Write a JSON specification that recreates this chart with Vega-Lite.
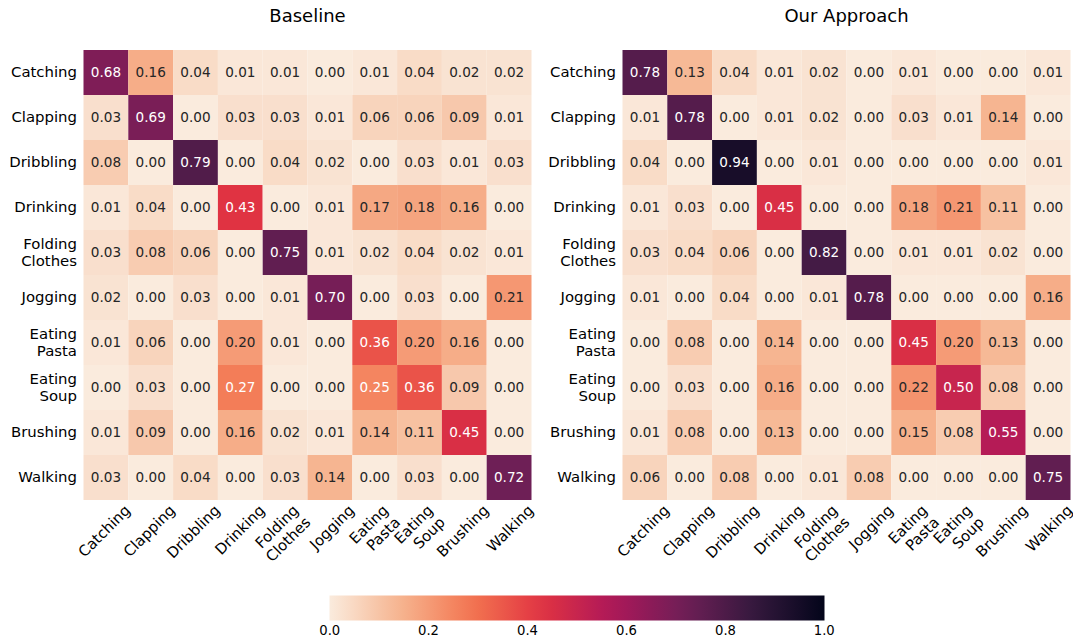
{
  "$schema": "https://vega.github.io/schema/vega-lite/v6.json",
  "autosize": {"type": "pad"},
  "padding": {"left": 8.5, "top": 8, "right": 0, "bottom": 0},
  "bounds": "flush",
  "spacing": 91,
  "config": {
    "font": "DejaVu Sans",
    "view": {"stroke": null},
    "axis": {"domain": false, "ticks": false, "grid": false, "title": null, "labelColor": "#000000", "labelFontSize": 14.9, "labelLineHeight": 17, "labelLimit": 200}
  },
  "datasets": {
    "cm": [
      {"m":"Baseline","t":"Catching","p":"Catching","v":0.68},{"m":"Baseline","t":"Catching","p":"Clapping","v":0.16},{"m":"Baseline","t":"Catching","p":"Dribbling","v":0.04},{"m":"Baseline","t":"Catching","p":"Drinking","v":0.01},{"m":"Baseline","t":"Catching","p":"Folding Clothes","v":0.01},{"m":"Baseline","t":"Catching","p":"Jogging","v":0.00},{"m":"Baseline","t":"Catching","p":"Eating Pasta","v":0.01},{"m":"Baseline","t":"Catching","p":"Eating Soup","v":0.04},{"m":"Baseline","t":"Catching","p":"Brushing","v":0.02},{"m":"Baseline","t":"Catching","p":"Walking","v":0.02},
      {"m":"Baseline","t":"Clapping","p":"Catching","v":0.03},{"m":"Baseline","t":"Clapping","p":"Clapping","v":0.69},{"m":"Baseline","t":"Clapping","p":"Dribbling","v":0.00},{"m":"Baseline","t":"Clapping","p":"Drinking","v":0.03},{"m":"Baseline","t":"Clapping","p":"Folding Clothes","v":0.03},{"m":"Baseline","t":"Clapping","p":"Jogging","v":0.01},{"m":"Baseline","t":"Clapping","p":"Eating Pasta","v":0.06},{"m":"Baseline","t":"Clapping","p":"Eating Soup","v":0.06},{"m":"Baseline","t":"Clapping","p":"Brushing","v":0.09},{"m":"Baseline","t":"Clapping","p":"Walking","v":0.01},
      {"m":"Baseline","t":"Dribbling","p":"Catching","v":0.08},{"m":"Baseline","t":"Dribbling","p":"Clapping","v":0.00},{"m":"Baseline","t":"Dribbling","p":"Dribbling","v":0.79},{"m":"Baseline","t":"Dribbling","p":"Drinking","v":0.00},{"m":"Baseline","t":"Dribbling","p":"Folding Clothes","v":0.04},{"m":"Baseline","t":"Dribbling","p":"Jogging","v":0.02},{"m":"Baseline","t":"Dribbling","p":"Eating Pasta","v":0.00},{"m":"Baseline","t":"Dribbling","p":"Eating Soup","v":0.03},{"m":"Baseline","t":"Dribbling","p":"Brushing","v":0.01},{"m":"Baseline","t":"Dribbling","p":"Walking","v":0.03},
      {"m":"Baseline","t":"Drinking","p":"Catching","v":0.01},{"m":"Baseline","t":"Drinking","p":"Clapping","v":0.04},{"m":"Baseline","t":"Drinking","p":"Dribbling","v":0.00},{"m":"Baseline","t":"Drinking","p":"Drinking","v":0.43},{"m":"Baseline","t":"Drinking","p":"Folding Clothes","v":0.00},{"m":"Baseline","t":"Drinking","p":"Jogging","v":0.01},{"m":"Baseline","t":"Drinking","p":"Eating Pasta","v":0.17},{"m":"Baseline","t":"Drinking","p":"Eating Soup","v":0.18},{"m":"Baseline","t":"Drinking","p":"Brushing","v":0.16},{"m":"Baseline","t":"Drinking","p":"Walking","v":0.00},
      {"m":"Baseline","t":"Folding Clothes","p":"Catching","v":0.03},{"m":"Baseline","t":"Folding Clothes","p":"Clapping","v":0.08},{"m":"Baseline","t":"Folding Clothes","p":"Dribbling","v":0.06},{"m":"Baseline","t":"Folding Clothes","p":"Drinking","v":0.00},{"m":"Baseline","t":"Folding Clothes","p":"Folding Clothes","v":0.75},{"m":"Baseline","t":"Folding Clothes","p":"Jogging","v":0.01},{"m":"Baseline","t":"Folding Clothes","p":"Eating Pasta","v":0.02},{"m":"Baseline","t":"Folding Clothes","p":"Eating Soup","v":0.04},{"m":"Baseline","t":"Folding Clothes","p":"Brushing","v":0.02},{"m":"Baseline","t":"Folding Clothes","p":"Walking","v":0.01},
      {"m":"Baseline","t":"Jogging","p":"Catching","v":0.02},{"m":"Baseline","t":"Jogging","p":"Clapping","v":0.00},{"m":"Baseline","t":"Jogging","p":"Dribbling","v":0.03},{"m":"Baseline","t":"Jogging","p":"Drinking","v":0.00},{"m":"Baseline","t":"Jogging","p":"Folding Clothes","v":0.01},{"m":"Baseline","t":"Jogging","p":"Jogging","v":0.70},{"m":"Baseline","t":"Jogging","p":"Eating Pasta","v":0.00},{"m":"Baseline","t":"Jogging","p":"Eating Soup","v":0.03},{"m":"Baseline","t":"Jogging","p":"Brushing","v":0.00},{"m":"Baseline","t":"Jogging","p":"Walking","v":0.21},
      {"m":"Baseline","t":"Eating Pasta","p":"Catching","v":0.01},{"m":"Baseline","t":"Eating Pasta","p":"Clapping","v":0.06},{"m":"Baseline","t":"Eating Pasta","p":"Dribbling","v":0.00},{"m":"Baseline","t":"Eating Pasta","p":"Drinking","v":0.20},{"m":"Baseline","t":"Eating Pasta","p":"Folding Clothes","v":0.01},{"m":"Baseline","t":"Eating Pasta","p":"Jogging","v":0.00},{"m":"Baseline","t":"Eating Pasta","p":"Eating Pasta","v":0.36},{"m":"Baseline","t":"Eating Pasta","p":"Eating Soup","v":0.20},{"m":"Baseline","t":"Eating Pasta","p":"Brushing","v":0.16},{"m":"Baseline","t":"Eating Pasta","p":"Walking","v":0.00},
      {"m":"Baseline","t":"Eating Soup","p":"Catching","v":0.00},{"m":"Baseline","t":"Eating Soup","p":"Clapping","v":0.03},{"m":"Baseline","t":"Eating Soup","p":"Dribbling","v":0.00},{"m":"Baseline","t":"Eating Soup","p":"Drinking","v":0.27},{"m":"Baseline","t":"Eating Soup","p":"Folding Clothes","v":0.00},{"m":"Baseline","t":"Eating Soup","p":"Jogging","v":0.00},{"m":"Baseline","t":"Eating Soup","p":"Eating Pasta","v":0.25},{"m":"Baseline","t":"Eating Soup","p":"Eating Soup","v":0.36},{"m":"Baseline","t":"Eating Soup","p":"Brushing","v":0.09},{"m":"Baseline","t":"Eating Soup","p":"Walking","v":0.00},
      {"m":"Baseline","t":"Brushing","p":"Catching","v":0.01},{"m":"Baseline","t":"Brushing","p":"Clapping","v":0.09},{"m":"Baseline","t":"Brushing","p":"Dribbling","v":0.00},{"m":"Baseline","t":"Brushing","p":"Drinking","v":0.16},{"m":"Baseline","t":"Brushing","p":"Folding Clothes","v":0.02},{"m":"Baseline","t":"Brushing","p":"Jogging","v":0.01},{"m":"Baseline","t":"Brushing","p":"Eating Pasta","v":0.14},{"m":"Baseline","t":"Brushing","p":"Eating Soup","v":0.11},{"m":"Baseline","t":"Brushing","p":"Brushing","v":0.45},{"m":"Baseline","t":"Brushing","p":"Walking","v":0.00},
      {"m":"Baseline","t":"Walking","p":"Catching","v":0.03},{"m":"Baseline","t":"Walking","p":"Clapping","v":0.00},{"m":"Baseline","t":"Walking","p":"Dribbling","v":0.04},{"m":"Baseline","t":"Walking","p":"Drinking","v":0.00},{"m":"Baseline","t":"Walking","p":"Folding Clothes","v":0.03},{"m":"Baseline","t":"Walking","p":"Jogging","v":0.14},{"m":"Baseline","t":"Walking","p":"Eating Pasta","v":0.00},{"m":"Baseline","t":"Walking","p":"Eating Soup","v":0.03},{"m":"Baseline","t":"Walking","p":"Brushing","v":0.00},{"m":"Baseline","t":"Walking","p":"Walking","v":0.72},
      {"m":"Ours","t":"Catching","p":"Catching","v":0.78},{"m":"Ours","t":"Catching","p":"Clapping","v":0.13},{"m":"Ours","t":"Catching","p":"Dribbling","v":0.04},{"m":"Ours","t":"Catching","p":"Drinking","v":0.01},{"m":"Ours","t":"Catching","p":"Folding Clothes","v":0.02},{"m":"Ours","t":"Catching","p":"Jogging","v":0.00},{"m":"Ours","t":"Catching","p":"Eating Pasta","v":0.01},{"m":"Ours","t":"Catching","p":"Eating Soup","v":0.00},{"m":"Ours","t":"Catching","p":"Brushing","v":0.00},{"m":"Ours","t":"Catching","p":"Walking","v":0.01},
      {"m":"Ours","t":"Clapping","p":"Catching","v":0.01},{"m":"Ours","t":"Clapping","p":"Clapping","v":0.78},{"m":"Ours","t":"Clapping","p":"Dribbling","v":0.00},{"m":"Ours","t":"Clapping","p":"Drinking","v":0.01},{"m":"Ours","t":"Clapping","p":"Folding Clothes","v":0.02},{"m":"Ours","t":"Clapping","p":"Jogging","v":0.00},{"m":"Ours","t":"Clapping","p":"Eating Pasta","v":0.03},{"m":"Ours","t":"Clapping","p":"Eating Soup","v":0.01},{"m":"Ours","t":"Clapping","p":"Brushing","v":0.14},{"m":"Ours","t":"Clapping","p":"Walking","v":0.00},
      {"m":"Ours","t":"Dribbling","p":"Catching","v":0.04},{"m":"Ours","t":"Dribbling","p":"Clapping","v":0.00},{"m":"Ours","t":"Dribbling","p":"Dribbling","v":0.94},{"m":"Ours","t":"Dribbling","p":"Drinking","v":0.00},{"m":"Ours","t":"Dribbling","p":"Folding Clothes","v":0.01},{"m":"Ours","t":"Dribbling","p":"Jogging","v":0.00},{"m":"Ours","t":"Dribbling","p":"Eating Pasta","v":0.00},{"m":"Ours","t":"Dribbling","p":"Eating Soup","v":0.00},{"m":"Ours","t":"Dribbling","p":"Brushing","v":0.00},{"m":"Ours","t":"Dribbling","p":"Walking","v":0.01},
      {"m":"Ours","t":"Drinking","p":"Catching","v":0.01},{"m":"Ours","t":"Drinking","p":"Clapping","v":0.03},{"m":"Ours","t":"Drinking","p":"Dribbling","v":0.00},{"m":"Ours","t":"Drinking","p":"Drinking","v":0.45},{"m":"Ours","t":"Drinking","p":"Folding Clothes","v":0.00},{"m":"Ours","t":"Drinking","p":"Jogging","v":0.00},{"m":"Ours","t":"Drinking","p":"Eating Pasta","v":0.18},{"m":"Ours","t":"Drinking","p":"Eating Soup","v":0.21},{"m":"Ours","t":"Drinking","p":"Brushing","v":0.11},{"m":"Ours","t":"Drinking","p":"Walking","v":0.00},
      {"m":"Ours","t":"Folding Clothes","p":"Catching","v":0.03},{"m":"Ours","t":"Folding Clothes","p":"Clapping","v":0.04},{"m":"Ours","t":"Folding Clothes","p":"Dribbling","v":0.06},{"m":"Ours","t":"Folding Clothes","p":"Drinking","v":0.00},{"m":"Ours","t":"Folding Clothes","p":"Folding Clothes","v":0.82},{"m":"Ours","t":"Folding Clothes","p":"Jogging","v":0.00},{"m":"Ours","t":"Folding Clothes","p":"Eating Pasta","v":0.01},{"m":"Ours","t":"Folding Clothes","p":"Eating Soup","v":0.01},{"m":"Ours","t":"Folding Clothes","p":"Brushing","v":0.02},{"m":"Ours","t":"Folding Clothes","p":"Walking","v":0.00},
      {"m":"Ours","t":"Jogging","p":"Catching","v":0.01},{"m":"Ours","t":"Jogging","p":"Clapping","v":0.00},{"m":"Ours","t":"Jogging","p":"Dribbling","v":0.04},{"m":"Ours","t":"Jogging","p":"Drinking","v":0.00},{"m":"Ours","t":"Jogging","p":"Folding Clothes","v":0.01},{"m":"Ours","t":"Jogging","p":"Jogging","v":0.78},{"m":"Ours","t":"Jogging","p":"Eating Pasta","v":0.00},{"m":"Ours","t":"Jogging","p":"Eating Soup","v":0.00},{"m":"Ours","t":"Jogging","p":"Brushing","v":0.00},{"m":"Ours","t":"Jogging","p":"Walking","v":0.16},
      {"m":"Ours","t":"Eating Pasta","p":"Catching","v":0.00},{"m":"Ours","t":"Eating Pasta","p":"Clapping","v":0.08},{"m":"Ours","t":"Eating Pasta","p":"Dribbling","v":0.00},{"m":"Ours","t":"Eating Pasta","p":"Drinking","v":0.14},{"m":"Ours","t":"Eating Pasta","p":"Folding Clothes","v":0.00},{"m":"Ours","t":"Eating Pasta","p":"Jogging","v":0.00},{"m":"Ours","t":"Eating Pasta","p":"Eating Pasta","v":0.45},{"m":"Ours","t":"Eating Pasta","p":"Eating Soup","v":0.20},{"m":"Ours","t":"Eating Pasta","p":"Brushing","v":0.13},{"m":"Ours","t":"Eating Pasta","p":"Walking","v":0.00},
      {"m":"Ours","t":"Eating Soup","p":"Catching","v":0.00},{"m":"Ours","t":"Eating Soup","p":"Clapping","v":0.03},{"m":"Ours","t":"Eating Soup","p":"Dribbling","v":0.00},{"m":"Ours","t":"Eating Soup","p":"Drinking","v":0.16},{"m":"Ours","t":"Eating Soup","p":"Folding Clothes","v":0.00},{"m":"Ours","t":"Eating Soup","p":"Jogging","v":0.00},{"m":"Ours","t":"Eating Soup","p":"Eating Pasta","v":0.22},{"m":"Ours","t":"Eating Soup","p":"Eating Soup","v":0.50},{"m":"Ours","t":"Eating Soup","p":"Brushing","v":0.08},{"m":"Ours","t":"Eating Soup","p":"Walking","v":0.00},
      {"m":"Ours","t":"Brushing","p":"Catching","v":0.01},{"m":"Ours","t":"Brushing","p":"Clapping","v":0.08},{"m":"Ours","t":"Brushing","p":"Dribbling","v":0.00},{"m":"Ours","t":"Brushing","p":"Drinking","v":0.13},{"m":"Ours","t":"Brushing","p":"Folding Clothes","v":0.00},{"m":"Ours","t":"Brushing","p":"Jogging","v":0.00},{"m":"Ours","t":"Brushing","p":"Eating Pasta","v":0.15},{"m":"Ours","t":"Brushing","p":"Eating Soup","v":0.08},{"m":"Ours","t":"Brushing","p":"Brushing","v":0.55},{"m":"Ours","t":"Brushing","p":"Walking","v":0.00},
      {"m":"Ours","t":"Walking","p":"Catching","v":0.06},{"m":"Ours","t":"Walking","p":"Clapping","v":0.00},{"m":"Ours","t":"Walking","p":"Dribbling","v":0.08},{"m":"Ours","t":"Walking","p":"Drinking","v":0.00},{"m":"Ours","t":"Walking","p":"Folding Clothes","v":0.01},{"m":"Ours","t":"Walking","p":"Jogging","v":0.08},{"m":"Ours","t":"Walking","p":"Eating Pasta","v":0.00},{"m":"Ours","t":"Walking","p":"Eating Soup","v":0.00},{"m":"Ours","t":"Walking","p":"Brushing","v":0.00},{"m":"Ours","t":"Walking","p":"Walking","v":0.75}
    ]
  },
  "resolve": {"scale": {"color": "shared"}, "legend": {"color": "shared"}},
  "hconcat": [
    {
      "data": {"name": "cm"},
      "transform": [{"filter": "datum.m === 'Baseline'"}],
      "width": 448,
      "height": 450,
      "title": {"text": "Baseline", "fontSize": 18, "fontWeight": "normal", "color": "#000000", "frame": "group", "anchor": "middle", "offset": 24},
      "encoding": {
        "x": {"field": "p", "type": "nominal", "sort": ["Catching","Clapping","Dribbling","Drinking","Folding Clothes","Jogging","Eating Pasta","Eating Soup","Brushing","Walking"], "scale": {"paddingInner": 0, "paddingOuter": 0},
              "axis": {"labelAngle": -45, "labelAlign": "right", "labelBaseline": "middle", "labelExpr": "split(datum.label, ' ')", "labelPadding": 8,
                       "labelOffset": {"condition": {"test": "indexof(datum.label, ' ') >= 0", "value": 11.6}, "value": 22.5}}},
        "y": {"field": "t", "type": "nominal", "sort": ["Catching","Clapping","Dribbling","Drinking","Folding Clothes","Jogging","Eating Pasta","Eating Soup","Brushing","Walking"], "scale": {"paddingInner": 0, "paddingOuter": 0},
              "axis": {"labelAlign": "right", "labelBaseline": "middle", "labelPadding": 7, "labelExpr": "split(datum.label, ' ')",
                       "labelOffset": {"condition": {"test": "indexof(datum.label, ' ') >= 0", "value": -8}, "value": 0}}}
      },
      "layer": [
        {"mark": {"type": "rect"},
         "encoding": {"color": {"field": "v", "type": "quantitative",
            "scale": {"type": "linear", "domain": [0, 0.142857, 0.285714, 0.428571, 0.571429, 0.714286, 0.857143, 1], "range": ["#faebdd", "#f6b48f", "#f37651", "#e13342", "#ad1759", "#701f57", "#35193e", "#03051a"], "interpolate": "rgb"},
            "legend": {"orient": "none", "legendX": 246, "legendY": 545.5, "direction": "horizontal", "gradientLength": 495, "gradientThickness": 25, "title": null, "values": [0.0005, 0.2, 0.4, 0.6, 0.8, 0.9995], "format": ".1f", "labelFontSize": 13.2, "labelColor": "#000000", "labelOffset": 4, "gradientStrokeWidth": 0, "padding": 0, "labelOverlap": false}}}},
        {"mark": {"type": "text", "fontSize": 13.6, "baseline": "middle", "align": "center"},
         "encoding": {"text": {"field": "v", "type": "quantitative", "format": ".2f"},
            "color": {"condition": {"test": "datum.v >= 0.235", "value": "#ffffff"}, "value": "#262626"}}}
      ]
    },
    {
      "data": {"name": "cm"},
      "transform": [{"filter": "datum.m === 'Ours'"}],
      "width": 448,
      "height": 450,
      "title": {"text": "Our Approach", "fontSize": 18, "fontWeight": "normal", "color": "#000000", "frame": "group", "anchor": "middle", "offset": 24},
      "encoding": {
        "x": {"field": "p", "type": "nominal", "sort": ["Catching","Clapping","Dribbling","Drinking","Folding Clothes","Jogging","Eating Pasta","Eating Soup","Brushing","Walking"], "scale": {"paddingInner": 0, "paddingOuter": 0},
              "axis": {"labelAngle": -45, "labelAlign": "right", "labelBaseline": "middle", "labelExpr": "split(datum.label, ' ')", "labelPadding": 8,
                       "labelOffset": {"condition": {"test": "indexof(datum.label, ' ') >= 0", "value": 11.6}, "value": 22.5}}},
        "y": {"field": "t", "type": "nominal", "sort": ["Catching","Clapping","Dribbling","Drinking","Folding Clothes","Jogging","Eating Pasta","Eating Soup","Brushing","Walking"], "scale": {"paddingInner": 0, "paddingOuter": 0},
              "axis": {"labelAlign": "right", "labelBaseline": "middle", "labelPadding": 7, "labelExpr": "split(datum.label, ' ')",
                       "labelOffset": {"condition": {"test": "indexof(datum.label, ' ') >= 0", "value": -8}, "value": 0}}}
      },
      "layer": [
        {"mark": {"type": "rect"},
         "encoding": {"color": {"field": "v", "type": "quantitative"}}},
        {"mark": {"type": "text", "fontSize": 13.6, "baseline": "middle", "align": "center"},
         "encoding": {"text": {"field": "v", "type": "quantitative", "format": ".2f"},
            "color": {"condition": {"test": "datum.v >= 0.235", "value": "#ffffff"}, "value": "#262626"}}}
      ]
    }
  ]
}
